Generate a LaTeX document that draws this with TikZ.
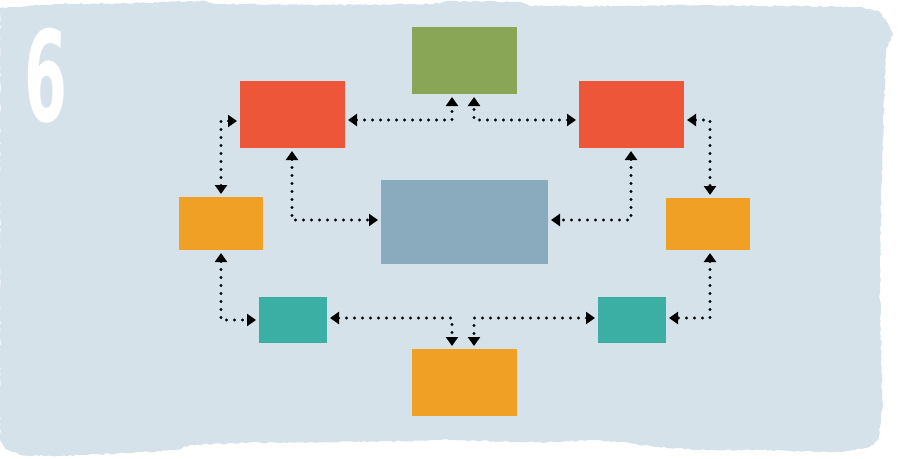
\documentclass[tikz,border=0pt]{standalone}
\usepackage{fontspec}
\usepackage{graphicx}
\usepackage{tikz}
\usetikzlibrary{arrows.meta,decorations.pathmorphing,positioning,calc}
\newfontfamily\numfont{DejaVu Sans}
\definecolor{bgblue}{HTML}{D5E2EA}
\definecolor{boxgreen}{HTML}{88A655}
\definecolor{boxred}{HTML}{EE563A}
\definecolor{boxgray}{HTML}{8AABBD}
\definecolor{boxorange}{HTML}{F0A125}
\definecolor{boxteal}{HTML}{3CAFA5}

\begin{document}
\begin{tikzpicture}[x=1pt,y=-1pt,
  blk/.style={rectangle,inner sep=0,outer sep=3pt,draw=none},
  link/.style={line width=3.2pt,line cap=round,dash pattern=on 0pt off 8pt,
    {Triangle[length=9pt,width=12pt]}-{Triangle[length=9pt,width=12pt]}}]
\useasboundingbox (0,0) rectangle (899,458);

% torn paper background
\fill[bgblue,decorate,decoration={random steps,segment length=3pt,amplitude=0.8pt}]
  (0,8) -- (60,4) -- (140,3) -- (205,1) -- (215,4) -- (330,5) -- (433,4) -- (450,1)
  -- (520,2) -- (530,6) -- (620,6) -- (700,5) -- (780,6) -- (860,7) -- (880,12)
  -- (890,28) -- (893,35) -- (886,50) -- (884,100) -- (881,200) -- (880,300)
  -- (882,390) -- (883,405) -- (880,427) -- (878,440) -- (870,447) -- (840,452)
  -- (760,450) -- (700,450) -- (650,446) -- (620,442) -- (590,440) -- (560,442)
  -- (520,442) -- (450,440) -- (400,441) -- (320,442) -- (240,443) -- (190,445)
  -- (175,450) -- (130,453) -- (60,456) -- (20,455) -- (5,448) -- (0,440) -- cycle;

\node (six) [inner sep=0,text=white] at (46,76)
  {\scalebox{0.49}[1]{\numfont\bfseries\fontsize{126}{126}\selectfont 6}};

% boxes
\node (green)   [blk,fill=boxgreen, minimum width=105,minimum height=67] at (464.5,60.5) {};
\node (redL)    [blk,fill=boxred,   minimum width=105,minimum height=67] at (292.5,114.5) {};
\node (redR)    [blk,fill=boxred,   minimum width=105,minimum height=67] at (631.5,114.5) {};
\node (center)  [blk,fill=boxgray,  minimum width=167,minimum height=84] at (464.5,222) {};
\node (orangeL) [blk,fill=boxorange,minimum width=84, minimum height=53] at (221,223.5) {};
\node (orangeR) [blk,fill=boxorange,minimum width=84, minimum height=52] at (708,224) {};
\node (tealL)   [blk,fill=boxteal,  minimum width=68, minimum height=46] at (293,320) {};
\node (tealR)   [blk,fill=boxteal,  minimum width=68, minimum height=46] at (632,320) {};
\node (orangeB) [blk,fill=boxorange,minimum width=105,minimum height=67] at (464.5,382.5) {};

% connectors
\draw [link] (redL.east |- 0,120) -| (green.south -| 452,0);
\draw [link] (redR.west |- 0,120) -| (green.south -| 474,0);
\draw [link] (redL.west |- 0,121) -| (orangeL.north -| 221,0);
\draw [link] (redL.south -| 292,0) |- (center.west |- 0,220);
\draw [link] (redR.south -| 631,0) |- (center.east |- 0,220);
\draw [link] (redR.east |- 0,120) -| (orangeR.north -| 710,0);
\draw [link] (orangeR.south -| 710,0) |- (tealR.east |- 0,318);
\draw [link] (orangeL.south -| 221,0) |- (tealL.west |- 0,320);
\draw [link] (tealL.east |- 0,318) -| (orangeB.north -| 452,0);
\draw [link] (tealR.west |- 0,318) -| (orangeB.north -| 474,0);
\end{tikzpicture}
\end{document}
